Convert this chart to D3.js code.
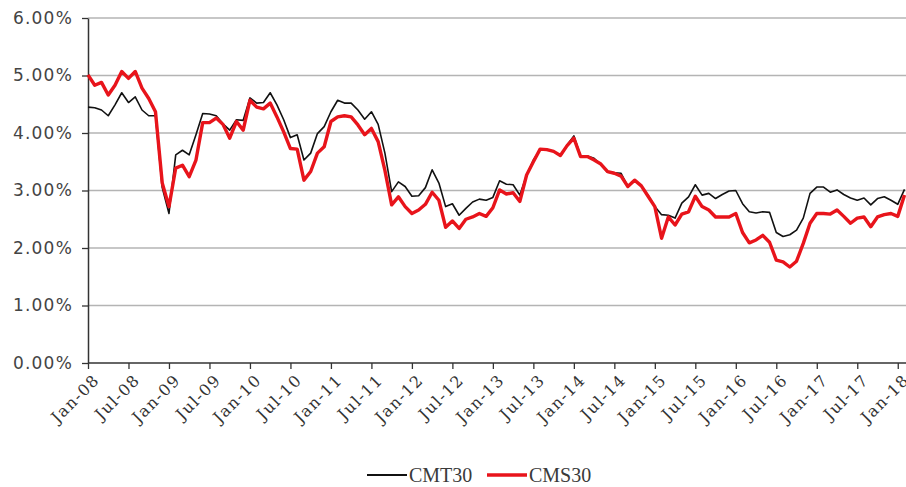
<!DOCTYPE html>
<html>
<head>
<meta charset="utf-8">
<script src="https://cdn.jsdelivr.net/npm/d3@7"></script>
<style>
  body { margin: 0; background: #fff; }
  .y-axis text { font-family: "DejaVu Sans", Verdana, sans-serif; font-size: 17px; fill: #444; letter-spacing: 1.2px; }
  .x-axis text { font-family: "DejaVu Serif", serif; font-size: 16px; fill: #333; letter-spacing: 1.4px; }
  .legend text { font-family: "Liberation Serif", serif; font-size: 20px; fill: #3a3a3a; }
</style>
</head>
<body>
<svg id="chart" width="906" height="487"></svg>
<script>
// monthly observations, Jan-08 .. Feb-18
const months = d3.timeMonth.range(new Date(2008, 0, 1), new Date(2018, 2, 1)).map(d3.timeFormat('%b-%y'));

const cmt30 = [
  4.45, 4.44, 4.40, 4.30, 4.49, 4.70, 4.53, 4.63, 4.40, 4.30, 4.30, 3.05,
  2.60, 3.62, 3.70, 3.62, 3.97, 4.34, 4.33, 4.30, 4.16, 4.05, 4.23, 4.22,
  4.61, 4.52, 4.53, 4.70, 4.49, 4.23, 3.92, 3.97, 3.53, 3.65, 3.99, 4.11,
  4.37, 4.57, 4.52, 4.52, 4.40, 4.24, 4.37, 4.15, 3.65, 2.98, 3.15, 3.07,
  2.90, 2.91, 3.05, 3.36, 3.13, 2.72, 2.77, 2.57, 2.69, 2.80, 2.85, 2.83,
  2.88, 3.17, 3.11, 3.10, 2.92, 3.27, 3.53, 3.71, 3.71, 3.68, 3.61, 3.79,
  3.95, 3.60, 3.60, 3.56, 3.45, 3.32, 3.31, 3.30, 3.07, 3.18, 3.08, 2.92,
  2.72, 2.58, 2.57, 2.52, 2.78, 2.89, 3.10, 2.92, 2.95, 2.86, 2.93, 2.99,
  3.00, 2.77, 2.63, 2.61, 2.63, 2.62, 2.27, 2.20, 2.23, 2.31, 2.52, 2.95,
  3.06, 3.06, 2.97, 3.01, 2.93, 2.87, 2.83, 2.87, 2.75, 2.86, 2.89, 2.83,
  2.76, 3.02
];

const cms30 = [
  5.01, 4.83, 4.88, 4.66, 4.83, 5.07, 4.95, 5.07, 4.78, 4.60, 4.37, 3.13,
  2.72, 3.39, 3.44, 3.24, 3.53, 4.18, 4.18, 4.26, 4.15, 3.91, 4.20, 4.05,
  4.57, 4.45, 4.42, 4.52, 4.28, 4.02, 3.73, 3.72, 3.18, 3.33, 3.65, 3.76,
  4.20, 4.28, 4.30, 4.28, 4.14, 3.97, 4.08, 3.85, 3.35, 2.75, 2.89, 2.72,
  2.60, 2.66, 2.76, 2.97, 2.83, 2.36, 2.47, 2.34, 2.50, 2.54, 2.60, 2.55,
  2.70, 3.01, 2.94, 2.96, 2.81, 3.27, 3.50, 3.72, 3.71, 3.68, 3.61, 3.78,
  3.91, 3.59, 3.59, 3.53, 3.46, 3.33, 3.30, 3.25, 3.07, 3.18, 3.08, 2.90,
  2.72, 2.17, 2.54, 2.40, 2.59, 2.63, 2.90, 2.72, 2.66, 2.54, 2.54, 2.54,
  2.60, 2.27, 2.09, 2.14, 2.22, 2.10, 1.79, 1.76, 1.67, 1.77, 2.08, 2.43,
  2.60, 2.60, 2.59, 2.66, 2.55, 2.43, 2.52, 2.54, 2.37, 2.54, 2.58, 2.60,
  2.55, 2.92
];

const xTickLabels = ['Jan-08', 'Jul-08', 'Jan-09', 'Jul-09', 'Jan-10', 'Jul-10', 'Jan-11',
  'Jul-11', 'Jan-12', 'Jul-12', 'Jan-13', 'Jul-13', 'Jan-14', 'Jul-14', 'Jan-15',
  'Jul-15', 'Jan-16', 'Jul-16', 'Jan-17', 'Jul-17', 'Jan-18'];
const yTicks = [0, 1, 2, 3, 4, 5, 6];

const seriesNames = ['CMT30', 'CMS30'];
const seriesColours = ['#111111', '#e8141b'];
const seriesWidths = [1.6, 3.4];

const svg = d3.select('#chart');
const margin = { left: 88, top: 18, right: 0, bottom: 124 };
const width = +svg.attr('width');
const height = +svg.attr('height');
const innerHeight = height - margin.top - margin.bottom;

// month scale, last point (Feb-18) sits at the right edge
const xScale = d3.scalePoint()
  .domain(months)
  .range([margin.left, width - 1.5]);

const yScale = d3.scaleLinear()
  .domain([0, 6])
  .range([margin.top + innerHeight, margin.top]);

// gridlines
svg.append('g')
  .selectAll('line').data(yTicks.filter(d => d > 0))
  .enter().append('line')
    .attr('x1', margin.left)
    .attr('x2', width)
    .attr('y1', d => yScale(d))
    .attr('y2', d => yScale(d))
    .attr('stroke', '#b4b4b4')
    .attr('stroke-width', 1.5);

// y axis
const yAxisG = svg.append('g')
  .attr('class', 'y-axis')
  .attr('transform', `translate(${margin.left},0)`)
  .call(d3.axisLeft(yScale)
    .tickValues(yTicks)
    .tickFormat(d => d.toFixed(2) + '%')
    .tickSize(6)
    .tickSizeOuter(0)
    .tickPadding(9));
yAxisG.select('.domain').attr('stroke', '#333').attr('stroke-width', 1.5);
yAxisG.selectAll('.tick line').attr('stroke', '#333').attr('stroke-width', 1.3);

// x axis
const xAxisG = svg.append('g')
  .attr('class', 'x-axis')
  .attr('transform', `translate(0,${yScale(0)})`)
  .call(d3.axisBottom(xScale)
    .tickValues(xTickLabels)
    .tickSize(6)
    .tickSizeOuter(0)
    .tickPadding(4));
xAxisG.select('.domain')
  .attr('d', `M${margin.left},0H${width}`)
  .attr('stroke', '#333').attr('stroke-width', 1.5);
xAxisG.selectAll('.tick line').attr('stroke', '#333').attr('stroke-width', 1.3);
xAxisG.selectAll('.tick text')
  .attr('text-anchor', 'end')
  .attr('dy', '0.35em')
  .attr('transform', 'translate(1,7) rotate(-45)');

// lines
const line = d3.line()
  .x((d, i) => xScale(months[i]))
  .y(d => yScale(d));

[cmt30, cms30].forEach((values, k) => {
  svg.append('path')
    .datum(values)
    .attr('fill', 'none')
    .attr('stroke', seriesColours[k])
    .attr('stroke-width', seriesWidths[k])
    .attr('stroke-linejoin', 'round')
    .attr('d', line);
});

// legend
const legendX = [367, 487];
const legend = svg.append('g').attr('class', 'legend');
seriesNames.forEach((name, k) => {
  legend.append('line')
    .attr('x1', legendX[k]).attr('x2', legendX[k] + 40)
    .attr('y1', 475).attr('y2', 475)
    .attr('stroke', seriesColours[k])
    .attr('stroke-width', k === 0 ? 2 : 3.5);
  legend.append('text')
    .attr('x', legendX[k] + 42)
    .attr('y', 482)
    .text(name);
});
</script>
</body>
</html>
